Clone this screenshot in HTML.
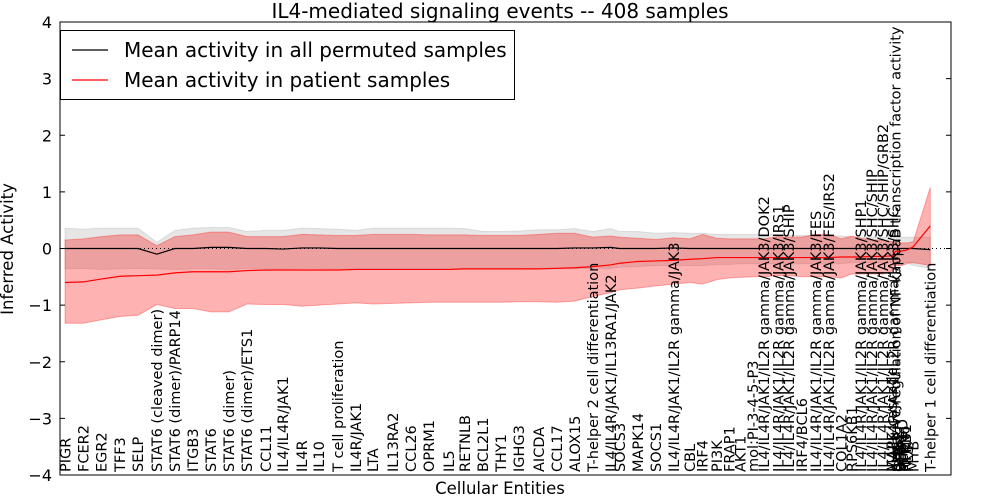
<!DOCTYPE html>
<html><head><meta charset="utf-8">
<style>
html,body{margin:0;padding:0;background:#fff;}
svg{display:block;font-family:"DejaVu Sans","Liberation Sans",sans-serif;}
</style></head>
<body>
<svg id="chart" width="1000" height="500" xmlns="http://www.w3.org/2000/svg"></svg>
<script>
const categories = ["PIGR","FCER2","EGR2","TFF3","SELP","STAT6 (cleaved dimer)","STAT6 (dimer)/PARP14","ITGB3","STAT6","STAT6 (dimer)","STAT6 (dimer)/ETS1","CCL11","IL4/IL4R/JAK1","IL4R","IL10","T cell proliferation","IL4R/JAK1","LTA","IL13RA2","CCL26","OPRM1","IL5","RETNLB","BCL2L1","THY1","IGHG3","AICDA","CCL17","ALOX15","T-helper 2 cell differentiation","IL4/IL4R/JAK1/IL13RA1/JAK2","SOCS3","MAPK14","SOCS1","IL4/IL4R/JAK1/IL2R gamma/JAK3","CBL","IRF4","PI3K","FRAP1","AKT1","mol:PI-3-4-5-P3","IL4/IL4R/JAK1/IL2R gamma/JAK3/DOK2","IL4/IL4R/JAK1/IL2R gamma/JAK3/IRS1","IL4/IL4R/JAK1/IL2R gamma/JAK3/SHIP","IRF4/BCL6","IL4/IL4R/JAK1/IL2R gamma/JAK3/FES","IL4/IL4R/JAK1/IL2R gamma/JAK3/FES/IRS2","COL1A2","RPS6KB1","IL4/IL4R/JAK1/IL2R gamma/JAK3/SHP1","IL4/IL4R/JAK1/IL2R gamma/JAK3/SHC/SHIP","IL4/IL4R/JAK1/IL2R gamma/JAK3/SHC/SHIP/GRB2","MAPK cascade","IL4/IL4R/JAK1/IL2R gamma/JAK3/SHC","negative regulation of NF-kappaB transcription factor activity","SHC1","GRB2","SOS1","INPP5D","PTPN6","NFKB1","FES","MYB","T-helper 1 cell differentiation"];
const entityPos = [0,1,2,3.05,4.05,5.1,6.1,7.1,8.1,9.1,10.1,11.15,12.1,13.15,14.1,15.15,16.15,17.1,18.2,19.2,20.2,21.3,22.2,23.2,24.2,25.2,26.3,27.3,28.3,29.3,30.3,30.8,31.8,32.8,33.8,34.7,35.4,36.2,36.9,37.5,38.2,38.8,39.6,40.2,40.9,41.7,42.4,43.1,43.7,44.2,44.8,45.4,45.9,46.0,46.1,46.2,46.3,46.4,46.5,46.6,46.7,46.8,47.1,48.05];
const patientMean = [-0.6,-0.59,-0.54,-0.49,-0.48,-0.47,-0.43,-0.41,-0.41,-0.41,-0.39,-0.38,-0.38,-0.38,-0.38,-0.38,-0.37,-0.37,-0.37,-0.37,-0.37,-0.37,-0.36,-0.36,-0.36,-0.36,-0.36,-0.35,-0.34,-0.32,-0.29,-0.26,-0.23,-0.22,-0.21,-0.19,-0.18,-0.16,-0.16,-0.16,-0.16,-0.16,-0.16,-0.16,-0.16,-0.16,-0.16,-0.15,-0.15,-0.15,-0.14,-0.14,-0.13,-0.13,-0.05,-0.05,-0.05,-0.05,-0.04,-0.04,-0.03,-0.02,0.03,0.4];
const patientUpper = [0.15,0.17,0.21,0.24,0.24,0.05,0.21,0.24,0.29,0.29,0.21,0.21,0.21,0.25,0.24,0.23,0.23,0.25,0.25,0.25,0.24,0.24,0.24,0.23,0.23,0.23,0.25,0.27,0.27,0.2,0.22,0.2,0.18,0.16,0.19,0.17,0.25,0.18,0.17,0.17,0.17,0.17,0.21,0.2,0.2,0.25,0.25,0.17,0.22,0.18,0.15,0.15,0.12,0.12,0.1,0.1,0.1,0.1,0.1,0.1,0.1,0.1,0.12,1.08];
const patientLower = [-1.32,-1.32,-1.26,-1.2,-1.18,-0.99,-1.06,-1.06,-1.12,-1.12,-0.98,-0.99,-0.99,-1.02,-1.0,-0.98,-0.96,-0.98,-0.97,-0.96,-0.95,-0.95,-0.95,-0.95,-0.95,-0.94,-0.94,-0.95,-0.93,-0.85,-0.78,-0.73,-0.7,-0.66,-0.63,-0.6,-0.63,-0.55,-0.52,-0.51,-0.5,-0.5,-0.48,-0.48,-0.5,-0.5,-0.5,-0.52,-0.45,-0.45,-0.45,-0.45,-0.4,-0.4,-0.3,-0.3,-0.3,-0.3,-0.3,-0.28,-0.28,-0.26,-0.25,-0.3];
const permMean = [0,0,0,0,0,-0.1,0,0,0.02,0.02,0,0,-0.01,0.01,0.01,0,0,0,0,0,0,0,0,0,0,0,0,0,0.01,0.01,0.02,0,0,0,0.01,0,0,0,0,0,0,0,0,0,0,0,0,0,0,0,0,0,0,0,0,0,0,0,0,0,0,0,0,-0.02];
const permUpper = [0.36,0.34,0.36,0.36,0.36,0.11,0.32,0.36,0.37,0.37,0.3,0.32,0.32,0.36,0.35,0.34,0.32,0.36,0.36,0.36,0.36,0.36,0.35,0.3,0.3,0.31,0.33,0.33,0.35,0.3,0.35,0.3,0.3,0.27,0.28,0.27,0.27,0.25,0.25,0.25,0.25,0.25,0.25,0.23,0.23,0.23,0.23,0.22,0.2,0.2,0.2,0.2,0.2,0.2,0.2,0.2,0.2,0.2,0.2,0.2,0.2,0.2,0.2,0.2];
const permLower = [-0.36,-0.35,-0.37,-0.36,-0.35,-0.36,-0.37,-0.36,-0.36,-0.37,-0.35,-0.35,-0.36,-0.35,-0.35,-0.36,-0.35,-0.36,-0.35,-0.35,-0.35,-0.35,-0.35,-0.35,-0.35,-0.35,-0.36,-0.36,-0.36,-0.35,-0.35,-0.33,-0.32,-0.3,-0.3,-0.3,-0.3,-0.28,-0.28,-0.27,-0.27,-0.27,-0.27,-0.27,-0.27,-0.27,-0.27,-0.27,-0.25,-0.25,-0.25,-0.25,-0.25,-0.25,-0.25,-0.25,-0.25,-0.25,-0.25,-0.25,-0.25,-0.25,-0.3,-0.35];
const yTicks = [-4,-3,-2,-1,0,1,2,3,4];

const NS = "http://www.w3.org/2000/svg";
const svg = document.getElementById("chart");
const L = 60, R = 951, T = 22, B = 475;
const xMin = -0.28, xMax = 49.2, yMin = -4, yMax = 4;
function xs(v){ return L + (v - xMin) / (xMax - xMin) * (R - L); }
function ys(v){ return B - (v - yMin) / (yMax - yMin) * (B - T); }
function mk(tag, attrs){ const e = document.createElementNS(NS, tag); for (const k in attrs) e.setAttribute(k, attrs[k]); return e; }
function band(up, lo){
  let d = "";
  entityPos.forEach((p,i)=>{ d += (i ? "L" : "M") + xs(p).toFixed(2) + "," + ys(up[i]).toFixed(2); });
  for (let i = entityPos.length - 1; i >= 0; i--) d += "L" + xs(entityPos[i]).toFixed(2) + "," + ys(lo[i]).toFixed(2);
  return d + "Z";
}
function line(vals){
  let d = "";
  entityPos.forEach((p,i)=>{ d += (i ? "L" : "M") + xs(p).toFixed(2) + "," + ys(vals[i]).toFixed(2); });
  return d;
}

const gBand = mk("path", {d: band(permUpper, permLower), fill: "#808080", "fill-opacity": "0.2", stroke: "#808080", "stroke-opacity": "0.2"});


svg.appendChild(gBand);
const rBand = mk("path", {d: band(patientUpper, patientLower), fill: "#ff0000", "fill-opacity": "0.3", stroke: "#ff0000", "stroke-opacity": "0.3"});


svg.appendChild(rBand);

const zero = mk("line", {x1: L, x2: R, y1: ys(0), y2: ys(0), stroke: "#000", "stroke-width": "1", "stroke-dasharray": "1,3"});


svg.appendChild(zero);

const bl = mk("path", {d: line(permMean), fill: "none", stroke: "#000", "stroke-width": "1.2"});


svg.appendChild(bl);
const rl = mk("path", {d: line(patientMean), fill: "none", stroke: "#ff0000", "stroke-width": "1.2"});


svg.appendChild(rl);

const frame = mk("rect", {x: L, y: T, width: R - L, height: B - T, fill: "none", stroke: "#000", "stroke-width": "1"});


svg.appendChild(frame);

yTicks.forEach(t=>{
  const y = ys(t);
  const a = mk("line", {x1: L, x2: L + 5, y1: y, y2: y, stroke: "#000"});
  
  
  svg.appendChild(a);
  const b = mk("line", {x1: R - 5, x2: R, y1: y, y2: y, stroke: "#000"});
  
  
  svg.appendChild(b);
  const tx = mk("text", {x: L - 8, y: y + 6, "text-anchor": "end", "font-size": "16"});
  tx.textContent = t < 0 ? "\u2212" + Math.abs(t) : String(t);
  
  
  svg.appendChild(tx);
});

categories.forEach((c,i)=>{
  const x = xs(entityPos[i]);
  const tx = mk("text", {transform: "translate(" + x.toFixed(2) + "," + (B - 3) + ") rotate(-90)", "font-size": "14.5", dy: "0.36em"});
  tx.textContent = c;
  
  
  svg.appendChild(tx);
});
</script>
<svg width="1000" height="500" style="position:absolute;left:0;top:0;font-family:'DejaVu Sans','Liberation Sans',sans-serif;" xmlns="http://www.w3.org/2000/svg">
  <text x="500" y="18" text-anchor="middle" font-size="20">IL4-mediated signaling events -- 408 samples</text>
  <text x="500" y="494" text-anchor="middle" font-size="16.5">Cellular Entities</text>
  <text transform="translate(13,249) rotate(-90)" text-anchor="middle" font-size="16.5">Inferred Activity</text>
  <g>
    <rect x="60.5" y="30.5" width="454" height="69" fill="#fff" stroke="#000"/>
    <line x1="72" x2="108" y1="50" y2="50" stroke="#000" stroke-width="1.2"/>
    <text x="124" y="57" font-size="20">Mean activity in all permuted samples</text>
    <line x1="72" x2="108" y1="80" y2="80" stroke="#ff0000" stroke-width="1.2"/>
    <text x="124" y="87" font-size="20">Mean activity in patient samples</text>
  </g>
</svg>
</body></html>
